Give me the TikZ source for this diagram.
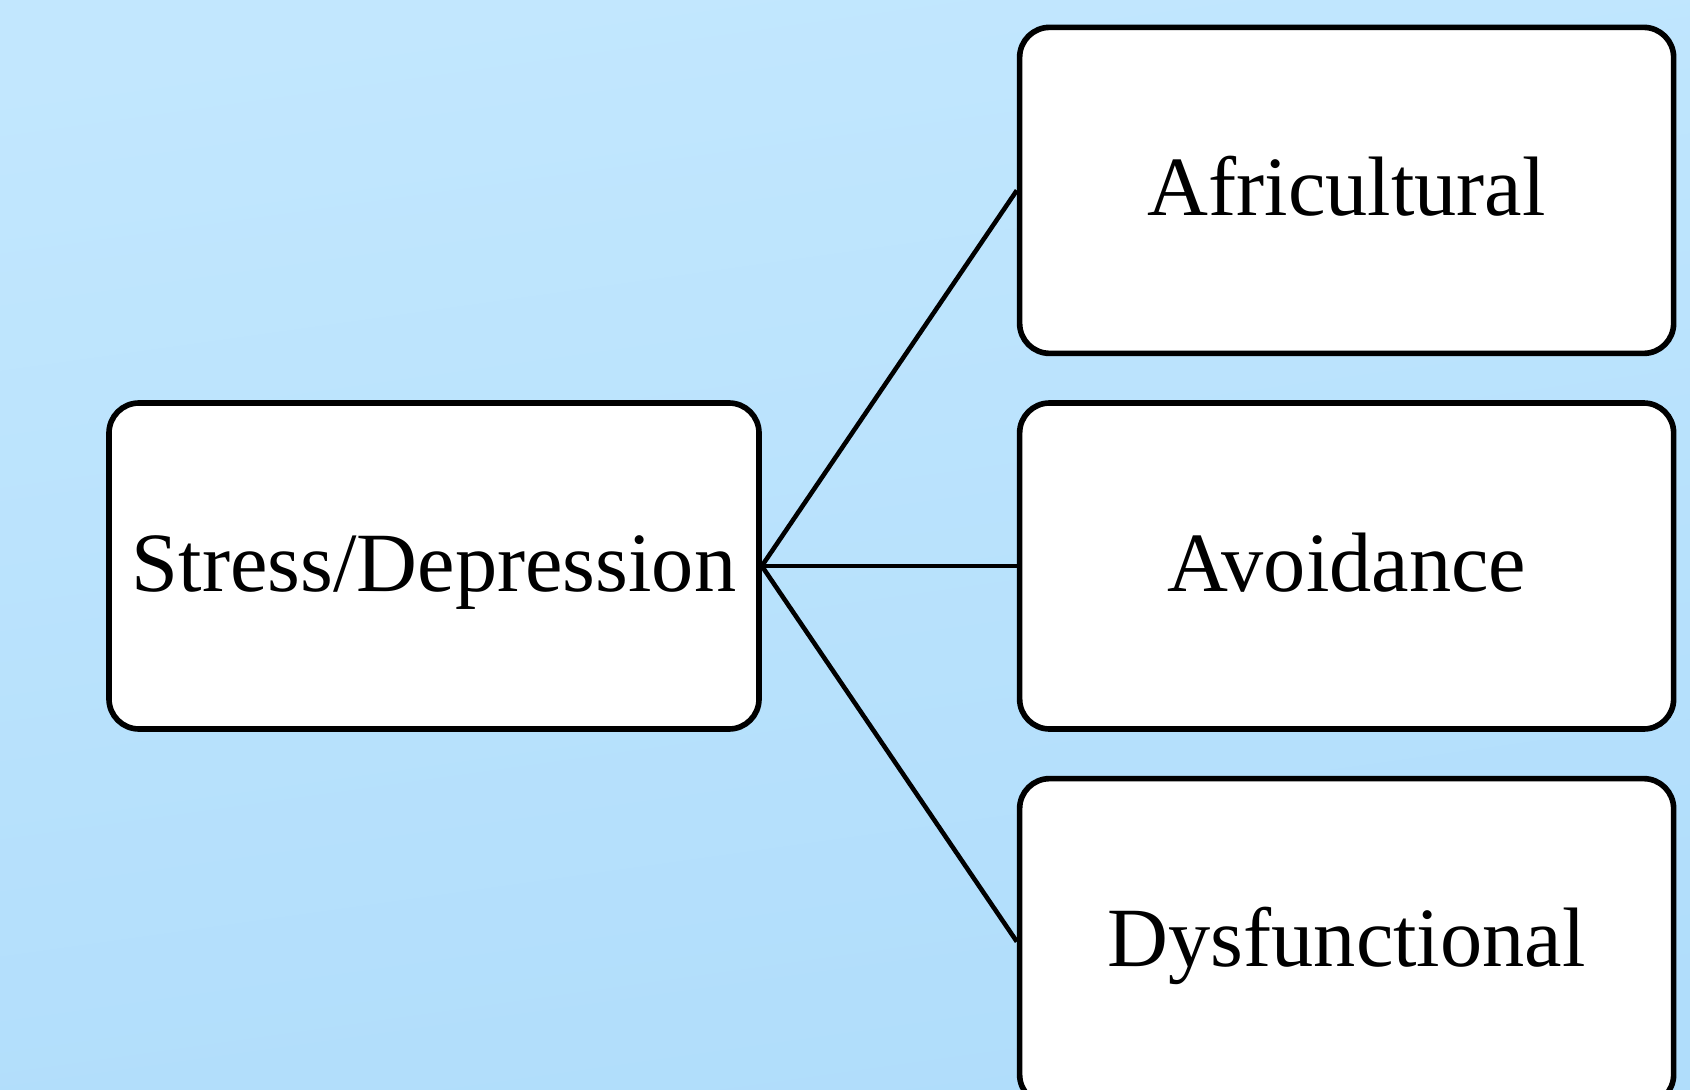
\documentclass[tikz,border=0pt]{standalone}
\usepackage{fontspec}
\setmainfont{Liberation Serif}
\usepackage{tikz}
\usetikzlibrary{positioning}
\definecolor{skytop}{HTML}{C2E7FE}
\definecolor{skybottom}{HTML}{B0DDFB}

\begin{document}
\begin{tikzpicture}[
  box/.style={rectangle, rounded corners=0.3cm, draw=black, fill=white, line width=1.6pt, minimum width=6.5cm, minimum height=3.26cm, text height=0.6cm, text depth=0.1cm, align=center, font=\fontsize{24}{29}\selectfont},
  link/.style={line width=1.3pt}
]
\useasboundingbox (0,0) rectangle (16.9,-10.89);
\shade[top color=skytop, bottom color=skybottom, shading angle=8] (0,0) rectangle (16.9,-10.89);
\clip (0,0) rectangle (16.9,-10.89);
\node[box] (stress) at (4.34,-5.66) {Stress/Depression};
\node[box, minimum width=6.54cm, right=2.55cm of stress] (avoid) {Avoidance};
\node[box, minimum width=6.54cm, above=0.44cm of avoid] (afri) {Africultural};
\node[box, minimum width=6.54cm, below=0.44cm of avoid] (dysf) {Dysfunctional};
\draw[link] (stress.east) -- (afri.west);
\draw[link] (stress.east) -- (avoid.west);
\draw[link] (stress.east) -- (dysf.west);
\end{tikzpicture}
\end{document}
